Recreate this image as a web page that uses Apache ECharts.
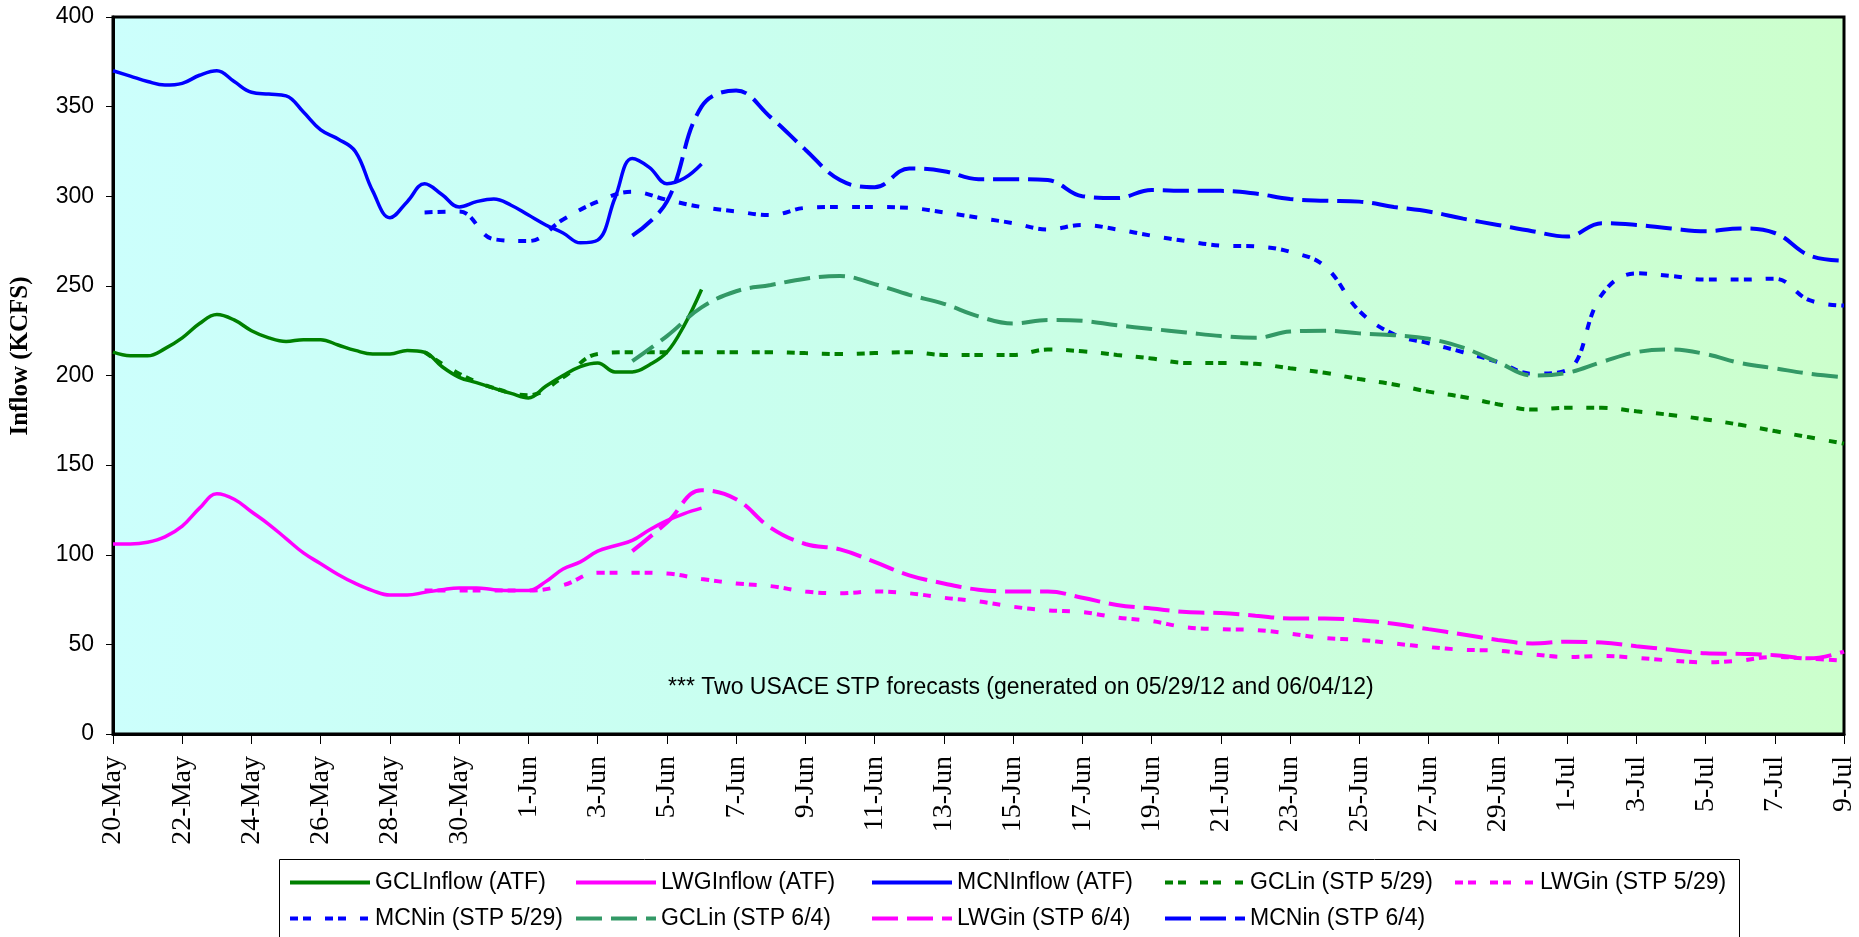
<!DOCTYPE html>
<html>
<head>
<meta charset="utf-8">
<title>Inflow (KCFS)</title>
<script src="https://cdn.jsdelivr.net/npm/echarts@6/dist/echarts.min.js"></script>
<style>
  html, body { margin: 0; padding: 0; background: #fff; }
  #main { width: 1859px; height: 937px; }
</style>
</head>
<body>
<div id="main"></div>
<script>
// x axis is in days from 20-May (0) to 9-Jul (50), labelled every 2 days
var tickLabels = ['20-May', '22-May', '24-May', '26-May', '28-May', '30-May',
  '1-Jun', '3-Jun', '5-Jun', '7-Jun', '9-Jun', '11-Jun', '13-Jun', '15-Jun',
  '17-Jun', '19-Jun', '21-Jun', '23-Jun', '25-Jun', '27-Jun', '29-Jun',
  '1-Jul', '3-Jul', '5-Jul', '7-Jul', '9-Jul'];

// observed inflow (ATF), every half day from 20-May
var atfStart = 0;
var atfStep = 0.5;
var gclAtf = [213, 211, 211, 215, 221, 229, 234, 231, 225, 221, 219, 220, 220, 217, 214, 212, 212, 214,
  213, 205, 199, 196, 193, 190, 187.5, 194, 200, 205, 207, 202, 202, 206, 213, 228, 248];
var lwgAtf = [106, 106, 107, 110, 116, 126, 134, 131, 124, 117, 109, 101, 95, 89, 84, 80, 77.5, 77.5,
  79, 80.5, 81.5, 81.5, 80.5, 80, 80, 85, 92, 96, 102, 105, 108, 114, 119, 123, 126];
var mcnAtf = [370, 367, 364, 362, 363, 367.5, 370, 364, 358, 357, 356, 347, 337, 332, 325, 303, 288, 297,
  307, 301, 294, 297, 298.5, 295, 289.5, 284, 279.5, 274, 275.5, 299, 321, 316, 307, 310, 318];

// STP forecast from 5/29, daily from 29-May
var stp529Start = 9;
var gcl529 = [213, 201, 193, 189, 199, 212, 213, 213, 213, 213, 213, 212.5, 212, 212.5, 213, 211.5, 211.5,
  211.5, 214.5, 213.5, 211.5, 209.5, 207, 207, 206.5, 204, 201.5, 198, 195, 191, 188, 184, 181, 182,
  182, 180, 178, 175.5, 172.5, 169, 165.5, 162];
var lwg529 = [80, 80, 80, 80, 83, 90, 90, 89.5, 86.5, 84, 82.5, 79.5, 78.5, 79.5, 78.5, 76, 74, 71, 69,
  68, 65, 63, 59.5, 58.5, 58, 56, 53.5, 52.5, 50.5, 48.5, 47, 46.5, 44.5, 43, 43.5, 42.5, 41, 40, 41,
  43, 42, 41];
var mcn529 = [291, 291.5, 276, 275, 287, 297, 302.5, 298, 294, 291.5, 289.5, 293.5, 294, 294, 293.5, 291,
  288, 285, 281.5, 284, 281.5, 278, 275, 272.5, 272, 269, 261, 236, 223, 218, 213, 207.5, 201, 203,
  245, 257, 255.5, 253.5, 253.5, 254, 242, 239];

// STP forecast from 6/4, daily from 4-Jun
var stp604Start = 15;
var gcl604 = [208, 222, 238, 247, 250.5, 254, 255.5, 251, 245, 240, 233, 229, 231, 230.5, 228, 226, 224,
  222, 221, 224.5, 225, 223.5, 222.5, 220.5, 215.5, 207.5, 200, 201.5, 207.5, 213, 214.5, 212, 207,
  204, 201, 199];
var lwg604 = [102, 118, 136, 131, 115, 106, 103, 96, 88.5, 84, 80.5, 79.5, 79.5, 76, 72, 70, 68, 67.5,
  66, 64.5, 64.5, 63.5, 61.5, 58.5, 55.5, 52.5, 50.5, 51.5, 51, 49, 47, 45, 44.7, 44, 42.2, 46];
var mcn604 = [278, 297, 350, 359, 344, 326, 309, 305, 315.5, 314, 309.5, 309.5, 309, 300, 299, 303.5,
  303, 303, 301.5, 298.5, 297.5, 297, 294, 291.5, 287.5, 284, 280.5, 277.5, 285, 284, 282, 280.5,
  282, 279.5, 267, 264];

var dotted = [8, 5, 8, 14];
var dashed = [26, 9];

// turn a value list into [day, value] pairs
function toPairs(values, start, step) {
  return values.map(function (v, i) { return [start + i * step, v]; });
}

function makeLine(name, values, start, step, color, type, width) {
  return {
    name: name,
    type: 'line',
    data: toPairs(values, start, step),
    smooth: 0.4,
    symbol: 'none',
    lineStyle: { color: color, width: width, type: type },
    itemStyle: { color: color }
  };
}

var series = [
  makeLine('GCLInflow (ATF)', gclAtf, atfStart, atfStep, '#008000', 'solid', 3.5),
  makeLine('LWGInflow (ATF)', lwgAtf, atfStart, atfStep, '#FF00FF', 'solid', 3.5),
  makeLine('MCNInflow (ATF)', mcnAtf, atfStart, atfStep, '#0000FF', 'solid', 3.5),
  makeLine('GCLin (STP 5/29)', gcl529, stp529Start, 1, '#008000', dotted, 4),
  makeLine('LWGin (STP 5/29)', lwg529, stp529Start, 1, '#FF00FF', dotted, 4),
  makeLine('MCNin (STP 5/29)', mcn529, stp529Start, 1, '#0000FF', dotted, 4),
  makeLine('GCLin (STP 6/4)', gcl604, stp604Start, 1, '#339966', dashed, 4),
  makeLine('LWGin (STP 6/4)', lwg604, stp604Start, 1, '#FF00FF', dashed, 4),
  makeLine('MCNin (STP 6/4)', mcn604, stp604Start, 1, '#0000FF', dashed, 4)
];

// legend is 5 columns x 2 rows, one legend per column so columns line up
var legendColumns = [288, 574, 870, 1163, 1453];
var legends = legendColumns.map(function (left, c) {
  var names = [series[c].name];
  if (series[c + 5]) names.push(series[c + 5].name);
  return {
    orient: 'vertical',
    left: left,
    top: 871,
    padding: 0,
    itemGap: 13,
    itemWidth: 80,
    itemHeight: 19,
    itemStyle: { opacity: 0 }, // line only, no marker
    lineStyle: { width: 4 },
    textStyle: { color: '#000', fontFamily: 'Liberation Sans', fontSize: 23 },
    data: names
  };
});

var chart = echarts.init(document.getElementById('main'), null, { renderer: 'canvas' });

var option = {
  animation: false,
  backgroundColor: '#fff',
  grid: {
    show: true,
    left: 113,
    right: 15,
    top: 17,
    bottom: 203,
    borderColor: '#000',
    borderWidth: 3,
    backgroundColor: new echarts.graphic.LinearGradient(0, 0, 1, 0, [
      { offset: 0, color: '#CCFFFC' },
      { offset: 0.35, color: '#C9FFF0' },
      { offset: 1, color: '#CCFFCC' }
    ])
  },
  xAxis: {
    type: 'value',
    min: 0,
    max: 50,
    interval: 2,
    splitLine: { show: false },
    axisLine: { show: true, onZero: false, lineStyle: { color: '#000', width: 3 } },
    axisTick: { show: true, length: 10, lineStyle: { color: '#000', width: 1 } },
    axisLabel: {
      rotate: 90,
      margin: 22,
      color: '#000',
      fontFamily: 'Liberation Serif',
      fontSize: 28,
      formatter: function (v) { return tickLabels[v / 2]; }
    }
  },
  yAxis: {
    type: 'value',
    min: 0,
    max: 400,
    interval: 50,
    splitLine: { show: false },
    axisLine: { show: true, lineStyle: { color: '#000', width: 3 } },
    axisTick: { show: true, length: 7, lineStyle: { color: '#000', width: 1 } },
    axisLabel: {
      margin: 19,
      color: '#000',
      fontFamily: 'Liberation Sans',
      fontSize: 23
    }
  },
  legend: legends,
  graphic: [
    {
      // legend frame, runs off the bottom like the original
      type: 'rect',
      z: -1,
      shape: { x: 279.5, y: 859.5, width: 1460, height: 100 },
      style: { fill: '#fff', stroke: '#000', lineWidth: 1 }
    },
    {
      type: 'text',
      x: 21,
      y: 356,
      rotation: Math.PI / 2,
      style: {
        text: 'Inflow (KCFS)',
        align: 'center',
        verticalAlign: 'middle',
        fill: '#000',
        font: 'bold 25px "Liberation Serif"'
      }
    },
    {
      type: 'text',
      x: 668,
      y: 688,
      z: 10,
      style: {
        text: '*** Two USACE STP forecasts (generated on 05/29/12 and 06/04/12)',
        verticalAlign: 'middle',
        fill: '#000',
        font: '23px "Liberation Sans"'
      }
    }
  ],
  series: series
};

chart.setOption(option);
</script>
</body>
</html>
